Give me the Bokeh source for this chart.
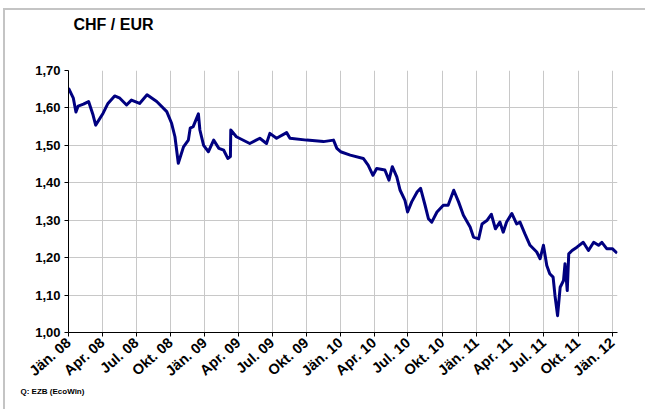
import pandas as pd
from bokeh.plotting import figure
from bokeh.models import FixedTicker, Range1d, Title
from bokeh.embed import file_html
from bokeh.resources import INLINE

# ---- data ----
dates = [
    "2008-01-01", "2008-01-14", "2008-01-21", "2008-01-27", "2008-02-10", "2008-02-24",
    "2008-03-07", "2008-03-14", "2008-04-03", "2008-04-16", "2008-05-04", "2008-05-18",
    "2008-06-05", "2008-06-18", "2008-07-10", "2008-07-30", "2008-08-25", "2008-09-21",
    "2008-10-04", "2008-10-13", "2008-10-22", "2008-11-05", "2008-11-18", "2008-11-23",
    "2008-12-01", "2008-12-15", "2008-12-19", "2008-12-29", "2009-01-11", "2009-01-25",
    "2009-02-08", "2009-02-21", "2009-03-04", "2009-03-11", "2009-03-12", "2009-03-27",
    "2009-05-02", "2009-05-29", "2009-06-16", "2009-06-25", "2009-07-13", "2009-08-09",
    "2009-08-18", "2009-10-02", "2009-11-16", "2009-12-13", "2009-12-22", "2010-01-01",
    "2010-01-27", "2010-03-03", "2010-03-16", "2010-03-29", "2010-04-08", "2010-04-30",
    "2010-05-11", "2010-05-20", "2010-06-01", "2010-06-10", "2010-06-23", "2010-06-30",
    "2010-07-11", "2010-07-26", "2010-08-04", "2010-08-16", "2010-08-25", "2010-09-03",
    "2010-09-17", "2010-10-04", "2010-10-17", "2010-11-01", "2010-11-14", "2010-11-27",
    "2010-12-15", "2010-12-24", "2011-01-07", "2011-01-16", "2011-01-30", "2011-02-10",
    "2011-02-21", "2011-03-05", "2011-03-14", "2011-03-23", "2011-04-06", "2011-04-19",
    "2011-04-28", "2011-05-11", "2011-05-25", "2011-06-12", "2011-06-21", "2011-06-30",
    "2011-07-09", "2011-07-17", "2011-07-26", "2011-07-31", "2011-08-07", "2011-08-14",
    "2011-08-23", "2011-08-27", "2011-09-02", "2011-09-06", "2011-09-15", "2011-09-28",
    "2011-10-15", "2011-10-29", "2011-11-12", "2011-11-25", "2011-12-04", "2011-12-17",
    "2012-01-01", "2012-01-14",
]
chf_eur = [
    1.653, 1.626, 1.589, 1.605, 1.610, 1.617,
    1.581, 1.554, 1.586, 1.612, 1.632, 1.626,
    1.608, 1.621, 1.612, 1.635, 1.617, 1.590,
    1.559, 1.523, 1.452, 1.496, 1.514, 1.546,
    1.550, 1.584, 1.541, 1.500, 1.483, 1.514,
    1.492, 1.487, 1.465, 1.470, 1.541, 1.523,
    1.505, 1.519, 1.505, 1.532, 1.519, 1.534,
    1.519, 1.514, 1.510, 1.514, 1.492, 1.483,
    1.474, 1.465, 1.447, 1.420, 1.438, 1.434,
    1.407, 1.443, 1.416, 1.380, 1.353, 1.322,
    1.349, 1.376, 1.385, 1.340, 1.304, 1.295,
    1.322, 1.340, 1.340, 1.380, 1.349, 1.313,
    1.282, 1.255, 1.250, 1.290, 1.300, 1.316,
    1.277, 1.295, 1.268, 1.295, 1.318, 1.290,
    1.295, 1.264, 1.233, 1.215, 1.197, 1.233,
    1.179, 1.157, 1.148, 1.099, 1.045, 1.121,
    1.139, 1.184, 1.112, 1.210, 1.219, 1.228,
    1.241, 1.219, 1.241, 1.233, 1.241, 1.224,
    1.224, 1.212,
]
x_tick_dates = [
    "2008-01-01", "2008-04-01", "2008-07-01", "2008-10-01",
    "2009-01-01", "2009-04-01", "2009-07-01", "2009-10-01",
    "2010-01-01", "2010-04-01", "2010-07-01", "2010-10-01",
    "2011-01-01", "2011-04-01", "2011-07-01", "2011-10-01",
    "2012-01-01",
]
x_tick_labels = [
    "Jän. 08", "Apr. 08", "Jul. 08", "Okt. 08",
    "Jän. 09", "Apr. 09", "Jul. 09", "Okt. 09",
    "Jän. 10", "Apr. 10", "Jul. 10", "Okt. 10",
    "Jän. 11", "Apr. 11", "Jul. 11", "Okt. 11",
    "Jän. 12",
]
y_ticks = [1.0, 1.1, 1.2, 1.3, 1.4, 1.5, 1.6, 1.7]
y_tick_labels = ["1,00", "1,10", "1,20", "1,30", "1,40", "1,50", "1,60", "1,70"]
title_text = "CHF / EUR"
source_text = "Q: EZB (EcoWin)"

FONT = "Liberation Sans"

x = pd.to_datetime(dates)
tick_ms = [float(pd.Timestamp(d).value // 10**6) for d in x_tick_dates]

p = figure(
    width=642, height=401,
    x_axis_type="datetime",
    x_range=Range1d(pd.Timestamp("2008-01-01"), pd.Timestamp("2012-01-15")),
    y_range=Range1d(1.0, 1.7),
    output_backend="svg", toolbar_location=None,
    min_border_left=63, min_border_right=30, min_border_top=60, min_border_bottom=79,
)
p.styles = {
    "margin-left": "5px", "margin-top": "10px",
    "box-shadow": "-2px -2px 0px 0px #c4c4c4",
}
p.outline_line_color = None
p.background_fill_color = "white"
p.border_fill_color = "white"

p.line(x, chf_eur, line_color="#000080", line_width=3, line_join="round")

# axes
p.xaxis.ticker = FixedTicker(ticks=tick_ms)
p.xaxis.major_label_overrides = dict(zip(tick_ms, x_tick_labels))
p.xaxis.major_label_orientation = 0.72
p.yaxis.ticker = FixedTicker(ticks=y_ticks)
p.yaxis.major_label_overrides = dict(zip(y_ticks, y_tick_labels))
for ax in (p.xaxis[0], p.yaxis[0]):
    ax.axis_line_color = "black"
    ax.axis_line_width = 1
    ax.major_tick_line_color = "black"
    ax.major_tick_out = 4
    ax.major_tick_in = 0
    ax.minor_tick_out = 0
    ax.minor_tick_in = 0
    ax.major_label_text_font = FONT
    ax.major_label_text_font_style = "bold"
    ax.major_label_text_color = "black"
p.yaxis.major_label_text_font_size = "13px"
p.xaxis.major_label_text_font_size = "14.5px"
p.xaxis.major_label_standoff = 4
p.yaxis.major_label_standoff = 4

p.xgrid.grid_line_color = "#c8c8c8"
p.ygrid.grid_line_color = "#c8c8c8"
p.xgrid.grid_line_width = 1
p.ygrid.grid_line_width = 1

# title (with a spacer between it and the frame) and source
p.add_layout(Title(text=" ", standoff=34, text_font_size="1px"), "above")
p.add_layout(Title(text=title_text, align="left", offset=5, standoff=2,
                   text_font=FONT, text_font_style="bold", text_font_size="16px",
                   text_color="black"), "above")
p.add_layout(Title(text=source_text, align="left", offset=-48, standoff=-6,
                   text_font=FONT, text_font_style="bold", text_font_size="8px",
                   text_color="black"), "below")

open("out.html", "w").write(file_html(p, INLINE))
